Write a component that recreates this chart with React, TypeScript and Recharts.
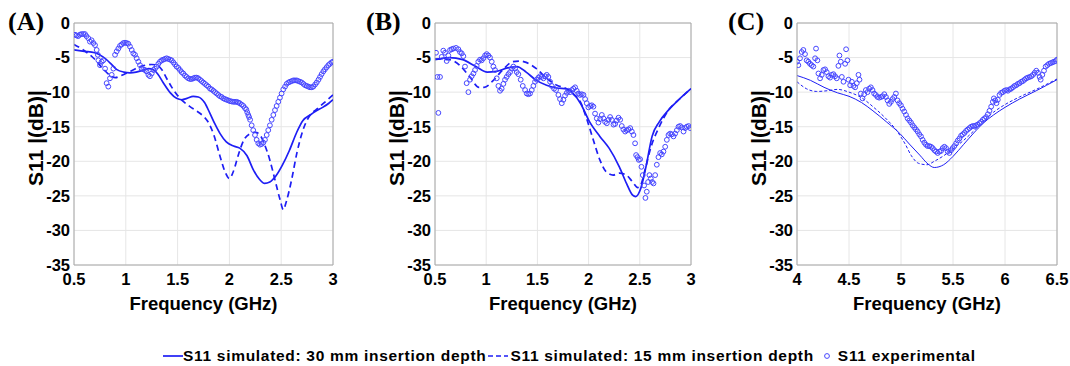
import React from 'react';
import { ComposedChart, Line, Scatter, XAxis, YAxis, CartesianGrid, ReferenceLine, Label } from 'recharts';

type Pt = [number, number];

const yTicks = [-35, -30, -25, -20, -15, -10, -5, 0];
const xTicksAB = [0.5, 1, 1.5, 2, 2.5, 3];
const xTicksC = [4, 4.5, 5, 5.5, 6, 6.5];

// (A)
const sim30A: Pt[] = [
  [0.5, -3.9], [0.6, -4.1], [0.7, -4.3], [0.78, -4.9], [0.85, -5.8], [0.91, -6.7], [0.98, -7.1],
  [1.04, -7.2], [1.1, -7.1], [1.17, -6.8], [1.22, -6.6], [1.27, -6.8], [1.31, -7.4], [1.36, -8.6],
  [1.43, -10.1], [1.49, -10.9], [1.54, -11.1], [1.59, -10.9], [1.65, -10.6], [1.7, -10.7], [1.76, -11.5],
  [1.81, -13.0], [1.86, -14.6], [1.91, -16.0], [1.97, -17.2], [2.04, -17.8], [2.1, -18.1], [2.17, -19.2],
  [2.23, -21.2], [2.29, -22.6], [2.34, -23.2], [2.39, -23.0], [2.45, -22.1], [2.51, -20.6], [2.58, -18.4],
  [2.65, -15.8], [2.71, -14.1], [2.78, -13.3], [2.84, -12.7], [2.9, -12.2], [2.96, -11.6], [3.0, -11.1],
];
const sim15A: Pt[] = [
  [0.5, -3.1], [0.59, -3.9], [0.69, -5.1], [0.78, -6.6], [0.85, -7.6], [0.9, -7.9], [0.94, -7.7],
  [1.0, -7.3], [1.07, -6.8], [1.14, -6.3], [1.19, -6.1], [1.25, -6.0], [1.3, -6.1], [1.35, -6.8],
  [1.39, -7.9], [1.44, -9.2], [1.49, -10.3], [1.56, -11.4], [1.62, -12.1], [1.68, -12.7], [1.75, -13.5],
  [1.79, -14.2], [1.85, -16.2], [1.91, -19.3], [1.96, -21.6], [2.0, -22.5], [2.04, -21.4], [2.09, -18.9],
  [2.14, -16.9], [2.2, -16.0], [2.25, -15.8], [2.3, -16.3], [2.34, -17.6], [2.39, -19.8], [2.44, -22.7],
  [2.49, -25.6], [2.52, -27.0], [2.55, -25.8], [2.6, -22.7], [2.65, -18.9], [2.71, -15.5], [2.78, -13.3],
  [2.84, -12.5], [2.91, -11.6], [2.97, -10.8], [3.0, -10.4],
];
const expA: Pt[] = [
  [0.51, -1.7], [0.525, -1.8], [0.54, -1.9], [0.556, -1.7], [0.572, -1.6], [0.59, -1.6], [0.606, -1.6],
  [0.62, -1.9], [0.638, -2.2], [0.654, -2.7], [0.67, -2.5], [0.687, -2.9], [0.703, -3.2], [0.719, -3.9],
  [0.73, -4.6], [0.735, -5.4], [0.751, -6.1], [0.767, -5.6], [0.783, -5.4], [0.8, -6.6], [0.815, -8.7],
  [0.831, -9.2], [0.847, -8.0], [0.864, -7.5], [0.88, -6.6], [0.896, -4.6], [0.912, -4.1], [0.928, -3.7],
  [0.944, -3.3], [0.96, -3.1], [0.976, -2.9], [0.992, -2.85], [1.008, -2.9], [1.024, -3.0], [1.04, -3.4],
  [1.057, -3.9], [1.073, -4.4], [1.089, -4.6], [1.105, -5.1], [1.121, -5.6], [1.137, -6.1], [1.153, -6.6],
  [1.169, -6.7], [1.185, -6.8], [1.2, -7.0], [1.218, -7.5], [1.233, -7.7], [1.25, -7.3], [1.266, -6.8],
  [1.282, -6.6], [1.298, -6.3], [1.314, -5.9], [1.33, -5.6], [1.346, -5.4], [1.362, -5.3], [1.378, -5.2],
  [1.394, -5.1], [1.41, -5.2], [1.427, -5.3], [1.443, -5.4], [1.459, -5.7], [1.475, -6.0], [1.49, -6.3],
  [1.507, -6.5], [1.523, -6.8], [1.539, -7.1], [1.555, -7.3], [1.571, -7.6], [1.587, -7.8], [1.603, -8.0],
  [1.62, -8.1], [1.636, -8.1], [1.652, -8.0], [1.668, -7.9], [1.684, -7.9], [1.7, -8.0], [1.716, -8.2],
  [1.732, -8.4], [1.748, -8.6], [1.764, -8.8], [1.78, -9.0], [1.797, -9.2], [1.813, -9.5], [1.829, -9.6],
  [1.845, -9.8], [1.861, -10.0], [1.877, -10.2], [1.893, -10.4], [1.909, -10.6], [1.925, -10.7],
  [1.941, -10.9], [1.957, -11.0], [1.973, -11.1], [1.99, -11.2], [2.006, -11.3], [2.022, -11.35],
  [2.038, -11.4], [2.054, -11.4], [2.07, -11.4], [2.086, -11.5], [2.1, -11.6], [2.118, -11.8],
  [2.135, -12.0], [2.15, -12.3], [2.163, -12.5], [2.172, -12.9], [2.182, -13.3], [2.19, -13.6],
  [2.2, -14.0], [2.215, -14.8], [2.23, -15.5], [2.247, -16.2], [2.263, -16.9], [2.279, -17.4],
  [2.295, -17.6], [2.311, -17.5], [2.327, -17.3], [2.343, -16.9], [2.36, -16.2], [2.375, -15.5],
  [2.391, -14.8], [2.408, -14.0], [2.424, -13.3], [2.44, -12.6], [2.456, -12.0], [2.472, -11.4],
  [2.488, -10.8], [2.504, -10.2], [2.52, -9.6], [2.537, -9.2], [2.553, -8.8], [2.57, -8.6], [2.585, -8.5],
  [2.601, -8.4], [2.617, -8.3], [2.633, -8.3], [2.65, -8.3], [2.665, -8.4], [2.682, -8.5], [2.698, -8.6],
  [2.714, -8.8], [2.73, -9.0], [2.746, -9.1], [2.762, -9.2], [2.778, -9.3], [2.795, -9.3], [2.81, -9.2],
  [2.827, -8.9], [2.843, -8.6], [2.86, -8.2], [2.875, -7.8], [2.89, -7.4], [2.907, -7.0], [2.922, -6.7],
  [2.939, -6.4], [2.955, -6.1], [2.971, -5.9], [2.986, -5.7], [3.0, -5.6],
];

// (B)
const sim30B: Pt[] = [
  [0.5, -5.3], [0.64, -5.0], [0.77, -5.3], [0.9, -6.3], [1.01, -7.1], [1.1, -7.0], [1.21, -6.5],
  [1.3, -6.3], [1.39, -7.1], [1.49, -8.3], [1.59, -9.0], [1.69, -9.4], [1.78, -9.5], [1.85, -10.2],
  [1.92, -11.6], [2.01, -14.3], [2.11, -16.4], [2.2, -18.1], [2.3, -20.8], [2.37, -23.2], [2.43, -24.9],
  [2.46, -25.1], [2.51, -23.9], [2.56, -20.8], [2.62, -16.4], [2.69, -14.3], [2.78, -12.6], [2.88, -11.1],
  [3.0, -9.5],
];
const sim15B: Pt[] = [
  [0.5, -5.2], [0.64, -5.3], [0.74, -6.1], [0.84, -7.8], [0.93, -9.3], [0.98, -9.3], [1.07, -8.3],
  [1.16, -6.8], [1.26, -5.6], [1.33, -5.5], [1.39, -5.7], [1.49, -6.6], [1.59, -8.0], [1.69, -9.0],
  [1.78, -9.5], [1.85, -10.3], [1.92, -11.4], [1.98, -13.8], [2.05, -17.1], [2.11, -19.8], [2.17, -21.5],
  [2.24, -22.0], [2.3, -21.7], [2.37, -22.0], [2.43, -23.0], [2.48, -23.8], [2.51, -23.4], [2.55, -21.3],
  [2.61, -17.9], [2.69, -15.0], [2.78, -12.6], [2.88, -11.1], [3.0, -9.5],
];
const expB: Pt[] = [
  [0.51, -4.3], [0.523, -7.8], [0.533, -13.0], [0.549, -7.8], [0.565, -4.9], [0.581, -4.0], [0.598, -4.3],
  [0.614, -5.5], [0.63, -4.7], [0.647, -3.9], [0.663, -3.8], [0.679, -3.7], [0.705, -3.6], [0.728, -3.8],
  [0.744, -4.2], [0.761, -4.4], [0.777, -4.8], [0.793, -6.3], [0.809, -8.7], [0.826, -10.0], [0.842, -8.2],
  [0.858, -7.7], [0.875, -7.3], [0.891, -6.8], [0.907, -6.2], [0.923, -5.6], [0.94, -5.3], [0.956, -5.4],
  [0.972, -5.1], [0.989, -4.7], [1.005, -4.5], [1.021, -4.7], [1.037, -5.0], [1.054, -5.6], [1.07, -6.3],
  [1.086, -6.8], [1.103, -8.0], [1.119, -9.1], [1.135, -9.8], [1.151, -9.5], [1.168, -8.8], [1.184, -8.2],
  [1.2, -7.8], [1.217, -7.4], [1.233, -7.1], [1.249, -6.6], [1.265, -6.3], [1.282, -6.6], [1.298, -7.1],
  [1.314, -7.4], [1.337, -8.2], [1.357, -9.1], [1.38, -9.7], [1.396, -10.2], [1.412, -10.3], [1.428, -10.2],
  [1.445, -9.7], [1.461, -9.1], [1.477, -8.5], [1.493, -8.2], [1.51, -7.9], [1.526, -7.7], [1.542, -7.8],
  [1.559, -8.0], [1.575, -7.7], [1.591, -7.5], [1.607, -7.8], [1.624, -8.5], [1.64, -9.1], [1.663, -9.5],
  [1.682, -9.7], [1.705, -10.4], [1.721, -11.0], [1.738, -11.6], [1.754, -11.1], [1.77, -10.5],
  [1.787, -10.1], [1.803, -9.8], [1.819, -10.0], [1.836, -9.7], [1.852, -9.5], [1.868, -9.3], [1.884, -9.8],
  [1.9, -10.2], [1.917, -10.4], [1.933, -10.3], [1.95, -10.4], [1.966, -11.0], [1.982, -11.6],
  [1.998, -12.2], [2.015, -12.0], [2.031, -11.9], [2.047, -12.1], [2.063, -13.1], [2.08, -13.8],
  [2.096, -14.4], [2.112, -13.9], [2.129, -13.3], [2.145, -13.8], [2.161, -14.3], [2.178, -14.5],
  [2.194, -14.0], [2.21, -13.6], [2.226, -14.0], [2.243, -14.7], [2.259, -14.6], [2.275, -14.1],
  [2.292, -13.7], [2.308, -14.0], [2.324, -14.9], [2.34, -15.4], [2.357, -15.7], [2.373, -15.5],
  [2.389, -15.4], [2.406, -15.2], [2.422, -15.7], [2.438, -16.2], [2.454, -17.4], [2.464, -19.1],
  [2.477, -19.4], [2.49, -19.8], [2.503, -19.7], [2.516, -20.8], [2.529, -22.0], [2.542, -23.5],
  [2.555, -25.3], [2.568, -24.4], [2.581, -23.0], [2.594, -22.0], [2.607, -22.5], [2.62, -23.0],
  [2.634, -23.2], [2.65, -22.0], [2.666, -20.5], [2.682, -19.4], [2.699, -18.8], [2.715, -19.0],
  [2.731, -18.6], [2.748, -17.9], [2.764, -16.9], [2.78, -16.2], [2.796, -16.0], [2.813, -16.1],
  [2.829, -16.4], [2.845, -16.0], [2.862, -15.5], [2.878, -15.0], [2.894, -14.9], [2.91, -15.1],
  [2.927, -15.7], [2.943, -15.2], [2.959, -15.0], [2.976, -14.9], [2.992, -15.2],
];

// (C)
const sim30C: Pt[] = [
  [4.0, -7.6], [4.13, -8.3], [4.26, -9.3], [4.39, -10.1], [4.5, -10.6], [4.62, -11.5], [4.73, -12.7],
  [4.86, -14.3], [4.99, -16.0], [5.08, -17.5], [5.18, -19.1], [5.26, -20.4], [5.32, -20.9], [5.41, -20.5],
  [5.5, -19.3], [5.6, -17.6], [5.7, -15.9], [5.79, -14.5], [5.89, -13.3], [6.0, -12.2], [6.14, -11.0],
  [6.3, -9.8], [6.5, -8.2],
];
const sim15C: Pt[] = [
  [4.0, -8.5], [4.09, -9.5], [4.19, -9.9], [4.29, -9.8], [4.39, -9.6], [4.5, -10.0], [4.62, -10.8],
  [4.73, -12.1], [4.86, -13.9], [4.96, -15.6], [5.04, -17.5], [5.1, -19.2], [5.17, -20.3], [5.25, -20.5],
  [5.32, -20.0], [5.41, -19.2], [5.5, -18.2], [5.6, -17.0], [5.7, -15.6], [5.79, -14.2], [5.89, -12.9],
  [6.0, -11.8], [6.14, -10.7], [6.3, -9.6], [6.5, -8.1],
];
const expC: Pt[] = [
  [4.0, -5.6], [4.013, -6.1], [4.029, -5.1], [4.045, -4.2], [4.061, -3.9], [4.077, -4.5], [4.093, -5.4],
  [4.109, -5.6], [4.125, -5.9], [4.141, -6.1], [4.157, -6.3], [4.174, -5.1], [4.183, -3.7], [4.196, -5.4],
  [4.206, -7.3], [4.222, -8.0], [4.238, -7.5], [4.254, -6.8], [4.27, -6.7], [4.286, -7.1], [4.302, -7.7],
  [4.318, -7.9], [4.334, -7.5], [4.35, -7.4], [4.366, -7.7], [4.382, -8.0], [4.398, -6.2], [4.408, -4.7],
  [4.421, -5.6], [4.431, -7.8], [4.447, -8.5], [4.463, -5.9], [4.472, -3.8], [4.485, -5.4], [4.495, -8.2],
  [4.511, -9.0], [4.527, -8.5], [4.543, -9.1], [4.559, -9.3], [4.575, -8.7], [4.591, -7.5], [4.601, -8.2],
  [4.614, -10.2], [4.63, -10.9], [4.646, -10.3], [4.662, -9.7], [4.678, -10.0], [4.694, -9.5], [4.71, -9.3],
  [4.726, -9.7], [4.742, -10.2], [4.758, -10.4], [4.774, -10.7], [4.79, -10.8], [4.807, -10.7],
  [4.823, -10.6], [4.839, -10.3], [4.855, -10.7], [4.871, -11.2], [4.887, -11.7], [4.903, -11.4],
  [4.919, -11.0], [4.935, -10.7], [4.951, -10.2], [4.967, -11.2], [4.983, -11.6], [4.999, -11.9],
  [5.015, -12.4], [5.031, -12.8], [5.048, -13.3], [5.064, -13.8], [5.08, -14.1], [5.096, -14.4],
  [5.112, -14.8], [5.128, -15.1], [5.144, -15.4], [5.16, -15.7], [5.176, -16.1], [5.192, -16.4],
  [5.208, -16.9], [5.224, -17.3], [5.24, -17.6], [5.256, -17.8], [5.273, -17.8], [5.289, -17.9],
  [5.305, -18.1], [5.321, -18.4], [5.337, -18.6], [5.353, -18.8], [5.369, -18.6], [5.385, -18.5],
  [5.401, -18.1], [5.417, -17.9], [5.433, -18.1], [5.449, -18.6], [5.465, -18.8], [5.481, -18.4],
  [5.497, -18.1], [5.513, -17.8], [5.53, -17.4], [5.546, -17.0], [5.562, -16.7], [5.578, -16.3],
  [5.594, -16.1], [5.61, -15.9], [5.626, -15.6], [5.642, -15.4], [5.658, -15.2], [5.674, -15.0],
  [5.69, -14.9], [5.706, -14.9], [5.722, -14.8], [5.738, -14.7], [5.755, -14.5], [5.771, -14.3],
  [5.787, -14.0], [5.803, -13.8], [5.819, -13.6], [5.835, -13.2], [5.851, -12.7], [5.867, -12.1],
  [5.883, -11.4], [5.893, -10.9], [5.906, -11.2], [5.918, -11.6], [5.931, -11.1], [5.947, -10.4],
  [5.963, -10.1], [5.979, -10.0], [5.995, -9.8], [6.012, -9.7], [6.028, -9.8], [6.044, -9.6], [6.06, -9.5],
  [6.076, -9.3], [6.092, -9.1], [6.108, -9.0], [6.124, -8.8], [6.14, -8.7], [6.156, -8.5], [6.172, -8.4],
  [6.188, -8.2], [6.204, -8.0], [6.22, -7.9], [6.237, -7.8], [6.253, -7.7], [6.269, -7.5], [6.285, -7.2],
  [6.301, -6.9], [6.317, -7.2], [6.333, -7.8], [6.343, -8.2], [6.359, -7.5], [6.375, -6.9], [6.391, -6.3],
  [6.407, -6.1], [6.423, -5.9], [6.439, -5.8], [6.455, -5.7], [6.471, -5.6], [6.487, -5.5], [6.5, -5.3],
];

const BLUE = '#1e1ef5';
const MARK = '#4646ff';
const FONT = '"Liberation Sans", Arial, sans-serif';

const toRows = (pts: Pt[]) => pts.map(([f, v]) => ({ f, v }));

const Ring = (p: any) => (
  <circle cx={p.cx} cy={p.cy} r={2.4} fill="none" stroke={MARK} strokeWidth={1} />
);

interface PanelProps {
  left: number;
  plotW: number;
  tag: string;
  xTicks: number[];
  sim30: Pt[];
  sim15: Pt[];
  exp: Pt[];
  thin?: boolean;
}

const Panel = ({ left, plotW, tag, xTicks, sim30, sim15, exp, thin }: PanelProps) => {
  const yAxisW = 74;
  const lw = thin ? 1 : 1.7;
  const dash = thin ? '3 2' : '6 4';
  const x0 = xTicks[0];
  const x1 = xTicks[xTicks.length - 1];
  return (
    <div style={{ position: 'absolute', left, top: 0 }}>
      <div
        style={{
          position: 'absolute', left: 8 - (left === 0 ? 0 : 3), top: 7, fontFamily: '"Liberation Serif", serif',
          fontWeight: 'bold', fontSize: 26, lineHeight: '30px', zIndex: 2,
        }}
      >
        {tag}
      </div>
      <ComposedChart
        width={yAxisW + plotW + 12}
        height={320}
        margin={{ top: 23, right: 12, bottom: 0, left: 0 }}
      >
        <CartesianGrid stroke="#e6e6e6" strokeWidth={1} />
        <XAxis
          type="number"
          dataKey="f"
          domain={[x0, x1]}
          ticks={xTicks}
          allowDataOverflow
          height={55}
          tickLine={false}
          axisLine={{ stroke: '#a8a8a8' }}
          tick={{ fill: '#000', fontSize: 16.5, fontWeight: 'bold', fontFamily: FONT }}
          tickFormatter={(t: number) => String(t)}
        >
          <Label
            value="Frequency (GHz)"
            position="insideBottom"
            offset={10}
            style={{ fill: '#000', fontSize: 18.5, fontWeight: 'bold', fontFamily: FONT }}
          />
        </XAxis>
        <YAxis
          type="number"
          dataKey="v"
          domain={[-35, 0]}
          ticks={yTicks}
          allowDataOverflow
          width={yAxisW}
          tickLine={false}
          tickSize={2}
          tickMargin={2}
          axisLine={{ stroke: '#a8a8a8' }}
          tick={{ fill: '#000', fontSize: 16.5, fontWeight: 'bold', fontFamily: FONT }}
        >
          <Label
            content={() => (
              <text
                x={35}
                y={138}
                transform="rotate(-90 35 138)"
                textAnchor="middle"
                dominantBaseline="central"
                style={{ fill: '#000', fontSize: 21, fontWeight: 'bold', fontFamily: FONT }}
              >
                S11 |(dB)|
              </text>
            )}
          />
        </YAxis>
        <ReferenceLine y={0} stroke="#a8a8a8" />
        <ReferenceLine x={x1} stroke="#a8a8a8" />
        <Line
          data={toRows(sim30)}
          dataKey="v"
          type="monotone"
          stroke={BLUE}
          strokeWidth={lw}
          dot={false}
          isAnimationActive={false}
        />
        <Line
          data={toRows(sim15)}
          dataKey="v"
          type="monotone"
          stroke={BLUE}
          strokeWidth={lw}
          strokeDasharray={dash}
          dot={false}
          isAnimationActive={false}
        />
        <Scatter data={toRows(exp)} dataKey="v" shape={Ring} isAnimationActive={false} />
      </ComposedChart>
    </div>
  );
};

const legendText: React.CSSProperties = {
  fontFamily: FONT,
  fontWeight: 'bold',
  fontSize: 15.5,
  letterSpacing: 0.7,
  color: '#000',
  whiteSpace: 'nowrap',
};

export default function App() {
  return (
    <div style={{ position: 'absolute', left: 0, top: 0, width: 1070, height: 366, background: '#fff' }}>
      <Panel left={0} plotW={259} tag="(A)" xTicks={xTicksAB} sim30={sim30A} sim15={sim15A} exp={expA} />
      <Panel left={361} plotW={256} tag="(B)" xTicks={xTicksAB} sim30={sim30B} sim15={sim15B} exp={expB} />
      <Panel left={723} plotW={260} tag="(C)" xTicks={xTicksC} sim30={sim30C} sim15={sim15C} exp={expC} thin />
      <div style={{ position: 'absolute', left: 163, top: 346, display: 'flex', alignItems: 'center', height: 20 }}>
        <svg width={20} height={10}>
          <line x1={0} y1={5} x2={20} y2={5} stroke={BLUE} strokeWidth={1.7} />
        </svg>
        <span style={legendText}>S11 simulated: 30 mm insertion depth</span>
        <svg width={22} height={10} style={{ marginLeft: 2 }}>
          <line x1={0} y1={5} x2={20} y2={5} stroke={BLUE} strokeWidth={1.7} strokeDasharray="5 3" />
        </svg>
        <span style={legendText}>S11 simulated: 15 mm insertion depth</span>
        <svg width={22} height={10} style={{ marginLeft: 2 }}>
          <circle cx={11} cy={5} r={2.4} fill="none" stroke={MARK} strokeWidth={1} />
        </svg>
        <span style={legendText}>S11 experimental</span>
      </div>
    </div>
  );
}
